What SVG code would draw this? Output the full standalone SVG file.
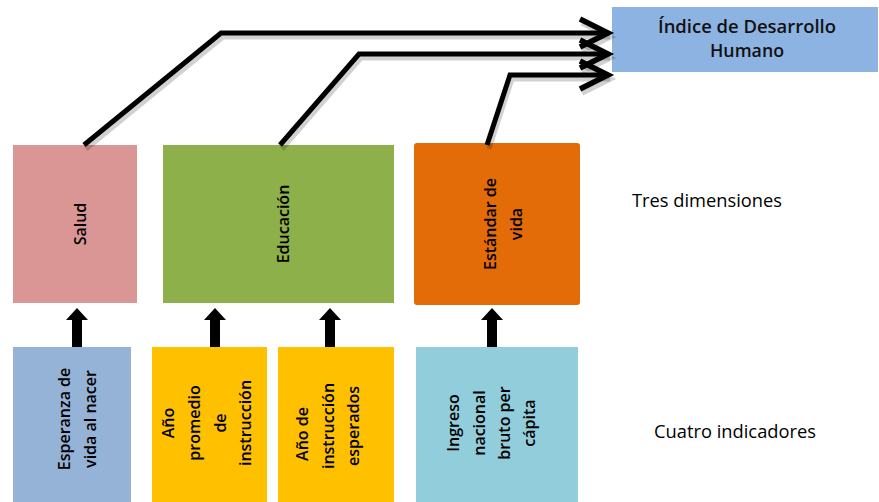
<svg xmlns="http://www.w3.org/2000/svg" xmlns:xlink="http://www.w3.org/1999/xlink" width="879" height="502" viewBox="0 0 879 502">
<style>
.lbl{font-family:"Open Sans","Liberation Sans",sans-serif;font-size:16px;font-weight:600;fill:#000;text-anchor:middle;}
.side{font-family:"Open Sans","Liberation Sans",sans-serif;font-size:18px;fill:#000;}
.ttl{font-family:"Open Sans","Liberation Sans",sans-serif;font-size:18px;font-weight:600;fill:#111;text-anchor:middle;}
.conn{fill:none;stroke:#000;stroke-width:5;stroke-linejoin:miter;}
.shadow{fill:none;stroke:#000;stroke-opacity:0.18;stroke-width:5;}
</style>
<defs>
<marker id="chev" markerUnits="userSpaceOnUse" markerWidth="40" markerHeight="40" viewBox="-34 -20 40 40" refX="0" refY="0" orient="auto" overflow="visible">
<path d="M-28,-14 L0,0 L-28,14" fill="none" stroke="#000" stroke-width="5.5"/>
</marker>
<marker id="chevs" markerUnits="userSpaceOnUse" markerWidth="40" markerHeight="40" viewBox="-34 -20 40 40" refX="0" refY="0" orient="auto" overflow="visible">
<path d="M-28,-14 L0,0 L-28,14" fill="none" stroke="#000" stroke-opacity="0.18" stroke-width="5.5"/>
</marker>
<path id="up" d="M-5,347 L-5,320 L-11,320 L0,308 L11,320 L5,320 L5,347 Z" fill="#000"/>
</defs>
<rect width="879" height="502" fill="#fff"/>

<g id="idh">
<rect x="612" y="7" width="266" height="65" fill="#8DB3E2"/>
<text class="ttl" x="747" y="33" textLength="178" lengthAdjust="spacingAndGlyphs">Índice de Desarrollo</text>
<text class="ttl" x="747" y="57" textLength="74" lengthAdjust="spacingAndGlyphs">Humano</text>
</g>

<g id="salud">
<rect x="13" y="145" width="124" height="158" fill="#D99694"/>
<text class="lbl" transform="translate(86,224) rotate(-90)">Salud</text>
</g>
<g id="educacion">
<rect x="163" y="145" width="231" height="158" fill="#8DB04A"/>
<text class="lbl" transform="translate(289,224) rotate(-90)">Educación</text>
</g>
<g id="estandar">
<rect x="414" y="143" width="166" height="162" rx="3" fill="#E36C09"/>
<text class="lbl" transform="translate(496,224) rotate(-90)">Estándar de</text>
<text class="lbl" transform="translate(522,224) rotate(-90)">vida</text>
</g>

<g id="esperanza">
<rect x="13" y="347" width="118" height="155" fill="#95B3D7"/>
<text class="lbl" transform="translate(70,419) rotate(-90)">Esperanza de</text>
<text class="lbl" transform="translate(96,419) rotate(-90)">vida al  nacer</text>
</g>
<g id="promedio">
<rect x="152" y="347" width="115" height="155" fill="#FFC000"/>
<text class="lbl" transform="translate(174,423) rotate(-90)">Año</text>
<text class="lbl" transform="translate(200,423) rotate(-90)">promedio</text>
<text class="lbl" transform="translate(226,423) rotate(-90)">de</text>
<text class="lbl" transform="translate(251,423) rotate(-90)">instrucción</text>
</g>
<g id="esperados">
<rect x="278" y="347" width="116" height="155" fill="#FFC000"/>
<text class="lbl" transform="translate(308,434) rotate(-90)">Año de</text>
<text class="lbl" transform="translate(334,426) rotate(-90)">instrucción</text>
<text class="lbl" transform="translate(359,426) rotate(-90)">esperados</text>
</g>
<g id="ingreso">
<rect x="416" y="347" width="162" height="155" fill="#92CDDC"/>
<text class="lbl" transform="translate(459,423) rotate(-90)">Ingreso</text>
<text class="lbl" transform="translate(485,423) rotate(-90)">nacional</text>
<text class="lbl" transform="translate(510,423) rotate(-90)">bruto per</text>
<text class="lbl" transform="translate(535,423) rotate(-90)">cápita</text>
</g>

<g id="labels">
<text class="side" x="632" y="207" textLength="150" lengthAdjust="spacingAndGlyphs">Tres dimensiones</text>
<text class="side" x="654" y="438" textLength="162" lengthAdjust="spacingAndGlyphs">Cuatro indicadores</text>
</g>

<g id="connectors">
<g transform="translate(2,4)">
<path class="shadow" d="M84,145 L221,33 L608,33" marker-end="url(#chevs)"/>
<path class="shadow" d="M280,145 L359,54 L608,54" marker-end="url(#chevs)"/>
<path class="shadow" d="M487,145 L510,75 L608,75" marker-end="url(#chevs)"/>
</g>
<path class="conn" d="M84,145 L221,33 L608,33" marker-end="url(#chev)"/>
<path class="conn" d="M280,145 L359,54 L608,54" marker-end="url(#chev)"/>
<path class="conn" d="M487,145 L510,75 L608,75" marker-end="url(#chev)"/>
<use xlink:href="#up" x="77"/>
<use xlink:href="#up" x="215"/>
<use xlink:href="#up" x="330"/>
<use xlink:href="#up" x="492"/>
</g>
</svg>
